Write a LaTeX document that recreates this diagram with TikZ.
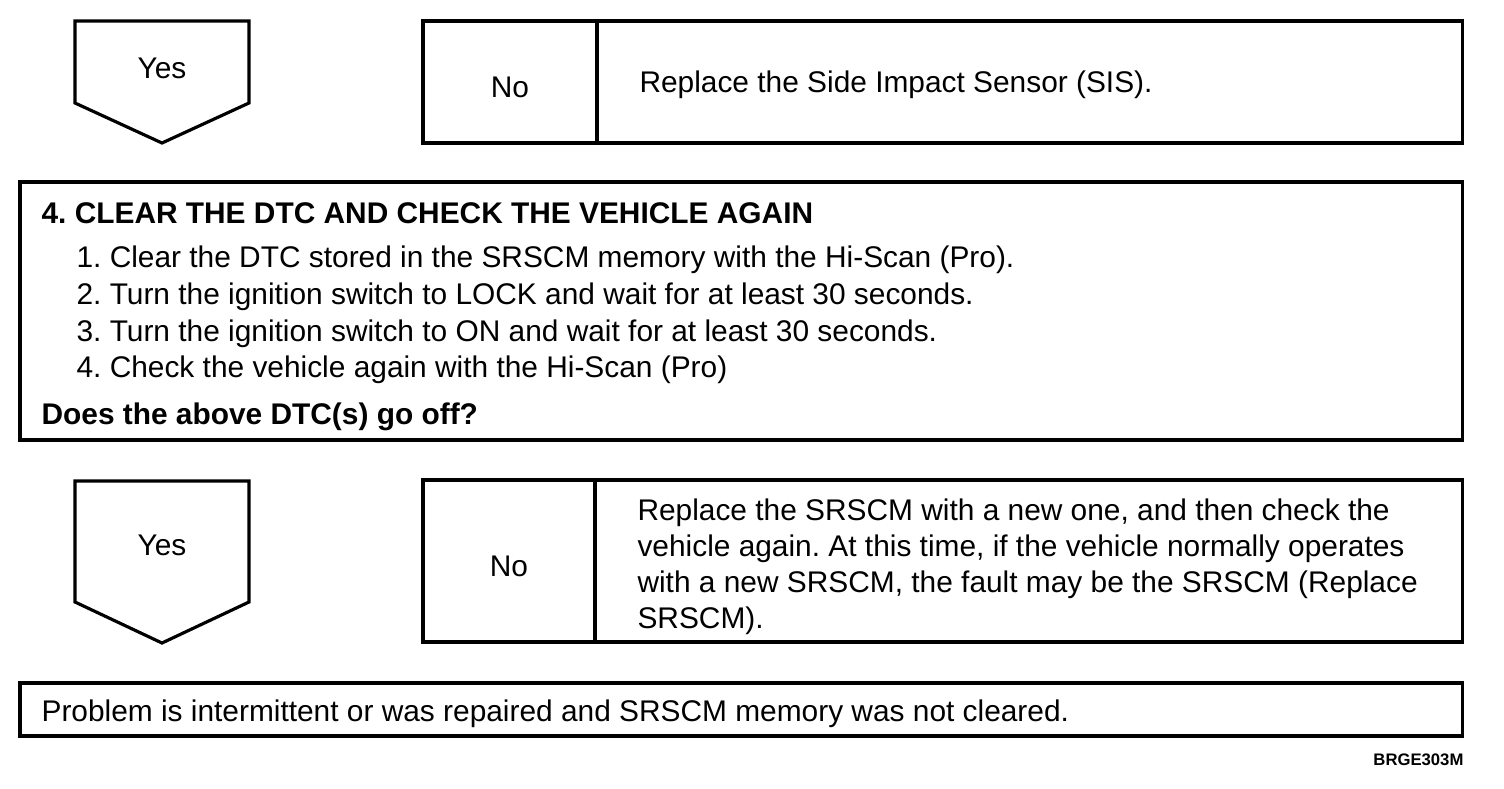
\documentclass[tikz,border=0pt]{standalone}
\usepackage{fontspec}
\setmainfont{Liberation Sans}
\usetikzlibrary{positioning}
\newcommand{\stepfont}{\fontsize{17}{20.5}\selectfont}
\frenchspacing

\begin{document}
\begin{tikzpicture}[x=0.02cm,y=-0.02cm,line width=1.8pt,
  every node/.style={font=\stepfont,inner sep=0pt},
  frame/.style={draw,outer sep=0pt,anchor=north west},
  answer/.style={frame,text height=0.62cm,text depth=0cm},
  note/.style={anchor=west,align=left},
  line/.style={anchor=base west}]
\useasboundingbox (0,0) rectangle (1504,788);
% first answer
\draw (75,21) -- (249,21) -- (249,103) -- (162,143) -- (75,103) -- cycle;
\node (yes1) at (162,68) {Yes};
\node[answer,minimum width=3.48cm,minimum height=2.44cm] (no1) at (423,21) {No};
\node[frame,minimum width=17.32cm,minimum height=2.44cm,right=0pt of no1] (fix1) {};
\node[note] (fix1text) at ([xshift=0.82cm,yshift=-0.06cm]fix1.west) {Replace the Side Impact Sensor (SIS).};
% step 4
\node[frame,minimum width=28.86cm,minimum height=5.16cm] (step) at (20,182) {};
\node[line,font=\stepfont\bfseries] (title) at (40,223) {4. CLEAR THE DTC AND CHECK THE VEHICLE AGAIN};
\node[line] (item1) at (75,267) {1. Clear the DTC stored in the SRSCM memory with the Hi-Scan (Pro).};
\node[line] (item2) at (75,304) {2. Turn the ignition switch to LOCK and wait for at least 30 seconds.};
\node[line] (item3) at (75,341) {3. Turn the ignition switch to ON and wait for at least 30 seconds.};
\node[line] (item4) at (75,377) {4. Check the vehicle again with the Hi-Scan (Pro)};
\node[line,font=\stepfont\bfseries] (ask) at (40,424) {Does the above DTC(s) go off?};
% second answer
\draw (75,481) -- (249,481) -- (249,602) -- (162,643) -- (75,602) -- cycle;
\node (yes2) at (162,545) {Yes};
\node[answer,minimum width=3.44cm,minimum height=3.24cm] (no2) at (423,480) {No};
\node[frame,minimum width=17.36cm,minimum height=3.24cm,right=0pt of no2] (fix2) {};
\node[note] (fix2text) at ([xshift=0.82cm,yshift=-0.12cm]fix2.west) {Replace the SRSCM with a new one, and then check the\\
  vehicle again. At this time, if the vehicle normally operates\\
  with a new SRSCM, the fault may be the SRSCM (Replace\\
  SRSCM).};
% result
\node[frame,minimum width=28.86cm,minimum height=1.06cm] (result) at (20,683) {};
\node[line] (cause) at (40,721) {Problem is intermittent or was repaired and SRSCM memory was not cleared.};
\node[anchor=east,font=\fontsize{9.5}{10}\selectfont\bfseries] (code) at (1465,760) {BRGE303M};
\end{tikzpicture}
\end{document}
